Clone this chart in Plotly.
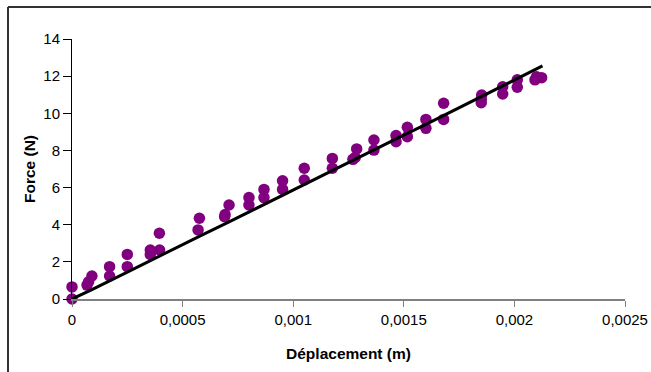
import plotly.graph_objects as go

# Measured data (displacement in m, force in N)
disp = [0, 0, 0.000068, 0.000075, 0.00009,
        0.00017, 0.00017, 0.00025, 0.00025,
        0.000354, 0.000354, 0.000396, 0.000395,
        0.00057, 0.000576, 0.00069, 0.000692, 0.00071,
        0.0008, 0.0008, 0.000868, 0.000868, 0.000952, 0.000952,
        0.00105, 0.00105, 0.001177, 0.001177,
        0.00127, 0.00128, 0.001287, 0.001365, 0.001365,
        0.001465, 0.001465, 0.001516, 0.001516,
        0.0016, 0.0016, 0.00168, 0.00168,
        0.00185, 0.00185, 0.001852, 0.001947, 0.001947,
        0.002013, 0.002013, 0.002093, 0.0021, 0.002123]
force = [0, 0.65, 0.75, 0.93, 1.24,
         1.24, 1.74, 1.74, 2.4,
         2.4, 2.64, 2.64, 3.54,
         3.72, 4.35, 4.43, 4.55, 5.06,
         5.06, 5.46, 5.46, 5.9, 5.9, 6.37,
         6.41, 7.04, 7.04, 7.57,
         7.52, 7.62, 8.08, 8.02, 8.56,
         8.47, 8.8, 8.74, 9.25,
         9.19, 9.67, 9.67, 10.54,
         10.57, 10.75, 10.98, 11.04, 11.43,
         11.4, 11.8, 11.8, 11.97, 11.92]

# Model line
line_x = [0, 0.00009, 0.00025, 0.0004, 0.00058, 0.00071, 0.00087,
          0.00105, 0.00118, 0.00129, 0.00147, 0.0016, 0.00185, 0.00201, 0.002127]
line_y = [0, 0.5, 1.45, 2.35, 3.4, 4.15, 5.1,
          6.2, 6.95, 7.6, 8.65, 9.4, 10.9, 11.85, 12.55]

x_ticks = [0, 0.0005, 0.001, 0.0015, 0.002, 0.0025]
x_tick_labels = ["0", "0,0005", "0,001", "0,0015", "0,002", "0,0025"]
y_ticks = [0, 2, 4, 6, 8, 10, 12, 14]

FONT = "Liberation Sans"

fig = go.Figure()
fig.add_trace(go.Scatter(x=disp, y=force, mode="markers",
                         marker=dict(color="#800080", size=11.5, line=dict(width=0)),
                         showlegend=False, cliponaxis=False))
fig.add_trace(go.Scatter(x=line_x, y=line_y, mode="lines",
                         line=dict(color="black", width=3),
                         showlegend=False))

W, H = 651, 372
L, R, T, B = 72, 26, 39, 73
pw, ph = W - L - R, H - T - B

def px(xp):
    return (xp - L) / pw

def py(yp):
    return (H - B - yp) / ph

fig.update_layout(
    width=W, height=H,
    margin=dict(l=L, r=R, t=T, b=B, pad=0),
    plot_bgcolor="white", paper_bgcolor="white",
    font=dict(family=FONT, size=15, color="black"),
    xaxis=dict(range=[0, 0.0025], tickvals=x_ticks, ticktext=x_tick_labels,
               automargin=False,
               showgrid=False, zeroline=False, showline=True,
               linecolor="#808080", linewidth=2, ticks="outside",
               ticklen=6, tickwidth=1, tickcolor="#808080",
               tickfont=dict(family=FONT, size=15, color="black"),
               title=dict(text="<b>Déplacement (m)</b>",
                          font=dict(family=FONT, size=15.5, color="black"),
                          standoff=21)),
    yaxis=dict(range=[0, 14], tickvals=y_ticks,
               automargin=False,
               showgrid=False, zeroline=False, showline=True,
               linecolor="black", linewidth=1, ticks="outside",
               ticklen=8, tickwidth=1, tickcolor="black",
               tickfont=dict(family=FONT, size=15, color="black"),
               title=dict(text="<b>Force (N)</b>",
                          font=dict(family=FONT, size=15.5, color="black"),
                          standoff=3)),
    shapes=[
        dict(type="line", xref="paper", yref="paper",
             x0=px(8), x1=px(700), y0=py(7), y1=py(7),
             line=dict(color="#333333", width=2)),
        dict(type="line", xref="paper", yref="paper",
             x0=px(8), x1=px(8), y0=py(7), y1=py(400),
             line=dict(color="#333333", width=2)),
    ],
)

fig.write_html("out.html")
